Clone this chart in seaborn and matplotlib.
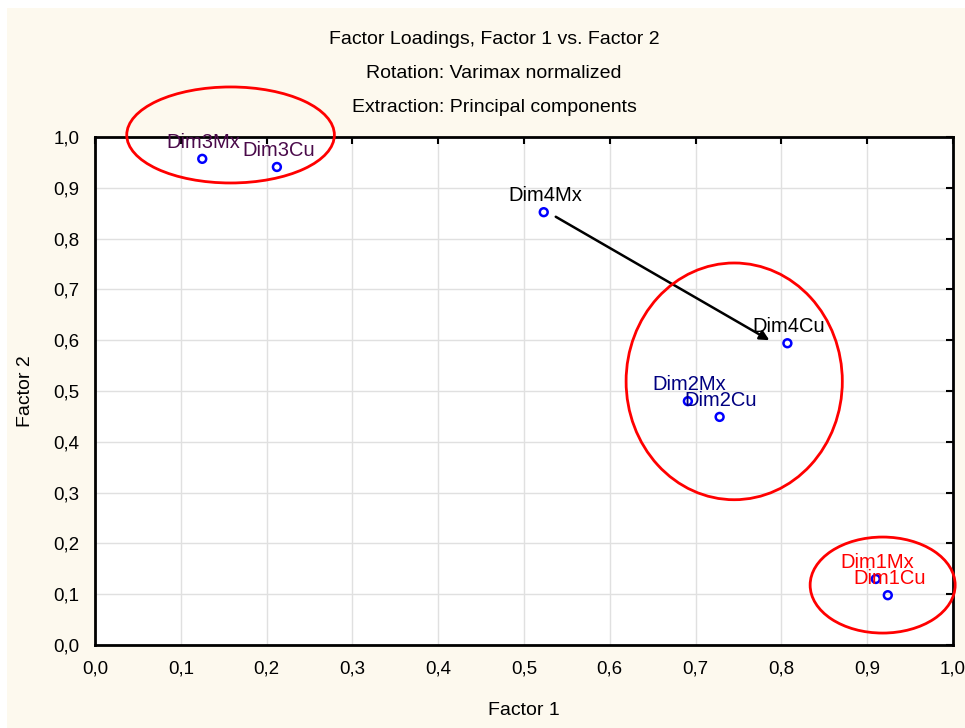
import pandas as pd
import seaborn as sns
import matplotlib.pyplot as plt
from matplotlib.patches import Ellipse, Rectangle
from matplotlib.ticker import FuncFormatter

# factor loadings
labels = ['Dim3Mx', 'Dim3Cu', 'Dim4Mx', 'Dim4Cu', 'Dim2Mx', 'Dim2Cu', 'Dim1Mx', 'Dim1Cu']
factor1 = [0.125, 0.212, 0.523, 0.807, 0.691, 0.728, 0.910, 0.924]
factor2 = [0.957, 0.941, 0.852, 0.594, 0.480, 0.449, 0.130, 0.098]
label_colors = ['#4a0a4a', '#4a0a4a', 'black', 'black', '#000080', '#000080', 'red', 'red']

# group ellipses: center x, center y, width, height
ell_cx = [0.158, 0.745, 0.918]
ell_cy = [1.004, 0.519, 0.118]
ell_w = [0.242, 0.252, 0.169]
ell_h = [0.189, 0.466, 0.189]

# arrow from Dim4Mx towards Dim4Cu
arrow_start = (0.537, 0.843)
arrow_end = (0.786, 0.600)

ticks = [i / 10 for i in range(11)]

data = pd.DataFrame({'label': labels, 'Factor 1': factor1, 'Factor 2': factor2})

sns.set_style('white')
plt.rcParams['font.family'] = ['Liberation Sans', 'DejaVu Sans']
plt.rcParams['text.color'] = 'black'
plt.rcParams['axes.labelcolor'] = 'black'

fig = plt.figure(figsize=(9.65, 7.28), dpi=100, facecolor='white')
fig.patches.append(Rectangle((7 / 965, 0), 1 - 7 / 965, 1 - 8 / 728,
                             transform=fig.transFigure, facecolor='#fdf9ee',
                             edgecolor='none', zorder=-10))
ax = fig.add_axes([95 / 965, 1 - 645 / 728, 858 / 965, 508 / 728])
ax.set_facecolor('white')

sns.scatterplot(data=data, x='Factor 1', y='Factor 2', ax=ax, marker='o',
                s=32, facecolor='none', edgecolor='blue', linewidth=1.8, zorder=5)

for lab, x, y, c in zip(labels, factor1, factor2, label_colors):
    ax.annotate(lab, (x, y), xytext=(1, 5), textcoords='offset points',
                ha='center', va='bottom', color=c, fontsize=14.5, zorder=6,
                annotation_clip=False)

for cx, cy, w, h in zip(ell_cx, ell_cy, ell_w, ell_h):
    ax.add_patch(Ellipse((cx, cy), w, h, fill=False, edgecolor='red',
                         linewidth=2, clip_on=False, zorder=4))

ax.annotate('', xy=arrow_end, xytext=arrow_start,
            arrowprops=dict(arrowstyle='-|>', color='black', lw=1.8,
                            mutation_scale=14, shrinkA=0, shrinkB=0))

ax.set_xlim(0, 1)
ax.set_ylim(0, 1)
ax.set_xticks(ticks)
ax.set_yticks(ticks)
fmt = FuncFormatter(lambda v, p: f'{v:.1f}'.replace('.', ','))
ax.xaxis.set_major_formatter(fmt)
ax.yaxis.set_major_formatter(fmt)
ax.tick_params(direction='in', length=5, width=1.5, top=True, right=True,
               labelsize=13.5, pad=11, colors='black')
ax.grid(True, color='#e0e0e0', linewidth=1)
for s in ax.spines.values():
    s.set_color('black')
    s.set_linewidth(2)

ax.set_xlabel('Factor 1', fontsize=14, labelpad=18)
ax.set_ylabel('Factor 2', fontsize=14, labelpad=14)

fig.text(494 / 965, 1 - 40 / 728, 'Factor Loadings, Factor 1 vs. Factor 2',
         ha='center', va='center', fontsize=14)
fig.text(494 / 965, 1 - 74 / 728, 'Rotation: Varimax normalized',
         ha='center', va='center', fontsize=14)
fig.text(494 / 965, 1 - 108 / 728, 'Extraction: Principal components',
         ha='center', va='center', fontsize=14)

fig.savefig('out.png', dpi=100, facecolor=fig.get_facecolor())
